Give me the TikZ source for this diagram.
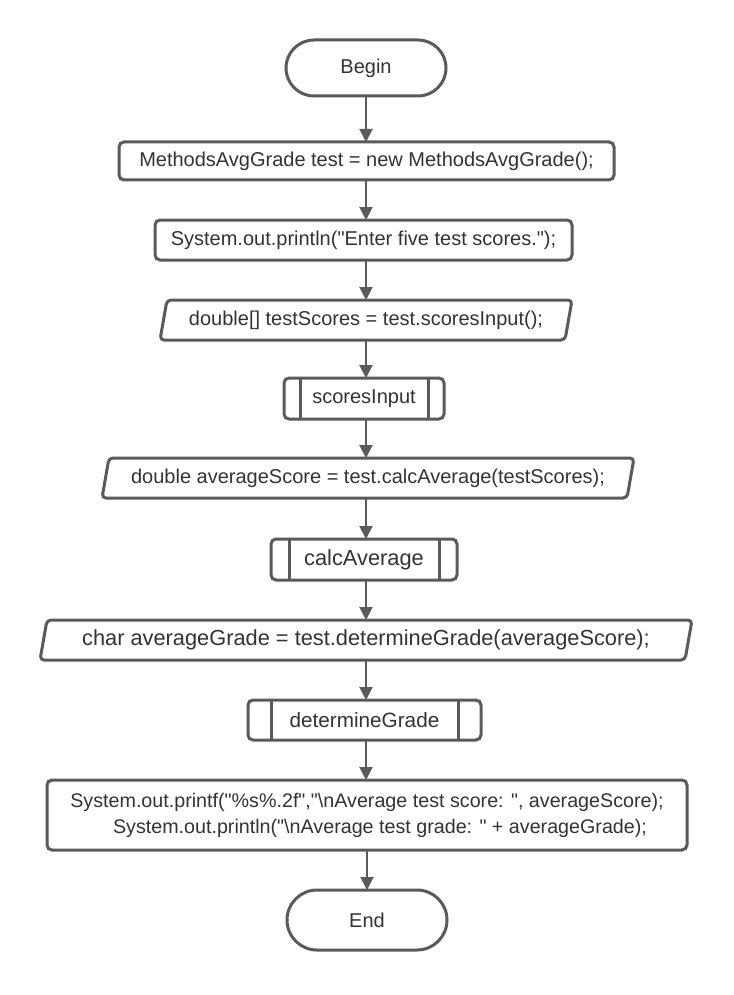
\documentclass[tikz,border=0pt]{standalone}
\usepackage{fontspec}
\setmainfont{Liberation Sans}[Ligatures=TeXOff]
\usetikzlibrary{shapes.misc,arrows.meta,calc}
\definecolor{strokecol}{HTML}{5A5A5A}
\definecolor{txtcol}{HTML}{333333}
\newcommand\drawio[2]{\draw[iobord] ($(#1.north west)+(#2,0)$) -- ($(#1.north east)+(#2,0)$) -- ($(#1.south east)-(#2,0)$) -- ($(#1.south west)-(#2,0)$) -- cycle;}
\newcommand\drawpred[2]{\draw[predline] ([xshift=#2pt]#1.north west) -- ([xshift=#2pt]#1.south west);
  \draw[predline] ([xshift=-#2pt]#1.north east) -- ([xshift=-#2pt]#1.south east);}
\begin{document}
\begin{tikzpicture}[x=1pt,y=-1pt,
  every node/.style={font=\fontsize{20pt}{26pt}\selectfont, text=txtcol, inner sep=0pt, outer sep=0pt},
  termbox/.style={draw=strokecol, line width=3pt, rounded rectangle, minimum width=160pt},
  procbox/.style={draw=strokecol, line width=3pt, rounded corners=5pt, rectangle},
  iotext/.style={rectangle, minimum height=40pt},
  iobord/.style={draw=strokecol, line width=3pt, rounded corners=4pt},
  predline/.style={draw=strokecol, line width=3pt},
  flowarrow/.style={draw=strokecol, line width=2pt, -{Triangle[length=13pt,width=13pt]}}
]
\useasboundingbox (0,0) rectangle (733,995);
\fill[white] (0,0) rectangle (733,995);

\node[termbox, minimum height=56pt] (begin) at (366,68) {Begin};
\node[procbox, minimum width=495pt, minimum height=38pt] (b1) at (366.5,161) {MethodsAvgGrade test = new MethodsAvgGrade();};
\node[procbox, minimum width=417pt, minimum height=40pt] (b2) at (363.5,240) {System.out.println("Enter five test scores.");};
\node[iotext, minimum width=405pt] (p1) at (366,320) {double[] testScores = test.scoresInput();};
\drawio{p1}{3.5}
\node[procbox, minimum width=160pt, minimum height=41pt] (s1) at (364,398.5) {scoresInput};
\drawpred{s1}{16}
\node[iotext, minimum width=525pt] (p2) at (368,478) {double averageScore = test.calcAverage(testScores);};
\drawio{p2}{3.5}
\node[procbox, minimum width=186pt, minimum height=41pt, font=\fontsize{21.8pt}{26pt}\selectfont] (s2) at (364,559.5) {calcAverage};
\drawpred{s2}{18}
\node[iotext, minimum width=645pt, font=\fontsize{21.8pt}{26pt}\selectfont] (p3) at (366,640) {char averageGrade = test.determineGrade(averageScore);};
\drawio{p3}{3.5}
\node[procbox, minimum width=233pt, minimum height=40pt, font=\fontsize{20.7pt}{26pt}\selectfont] (s3) at (364.5,720) {determineGrade};
\drawpred{s3}{23}
\node[procbox, minimum width=640pt, minimum height=70pt, align=center, font=\fontsize{19.7pt}{26pt}\selectfont] (fin) at (367,815) {System.out.printf("\%s\%.2f","\textbackslash nAverage test score: ", averageScore);\\\hspace*{26pt}System.out.println("\textbackslash nAverage test grade: " + averageGrade);};
\node[termbox, minimum height=60pt] (end) at (367,920) {End};

\draw[flowarrow] (begin.south) -- (begin.south |- b1.north);
\draw[flowarrow] (begin.south |- b1.south) -- (begin.south |- b2.north);
\draw[flowarrow] (begin.south |- b2.south) -- (begin.south |- p1.north);
\draw[flowarrow] (begin.south |- p1.south) -- (begin.south |- s1.north);
\draw[flowarrow] (begin.south |- s1.south) -- (begin.south |- p2.north);
\draw[flowarrow] (begin.south |- p2.south) -- (begin.south |- s2.north);
\draw[flowarrow] (begin.south |- s2.south) -- (begin.south |- p3.north);
\draw[flowarrow] (begin.south |- p3.south) -- (begin.south |- s3.north);
\draw[flowarrow] (begin.south |- s3.south) -- (begin.south |- fin.north);
\draw[flowarrow] (end.north |- fin.south) -- (end.north);
\end{tikzpicture}
\end{document}
